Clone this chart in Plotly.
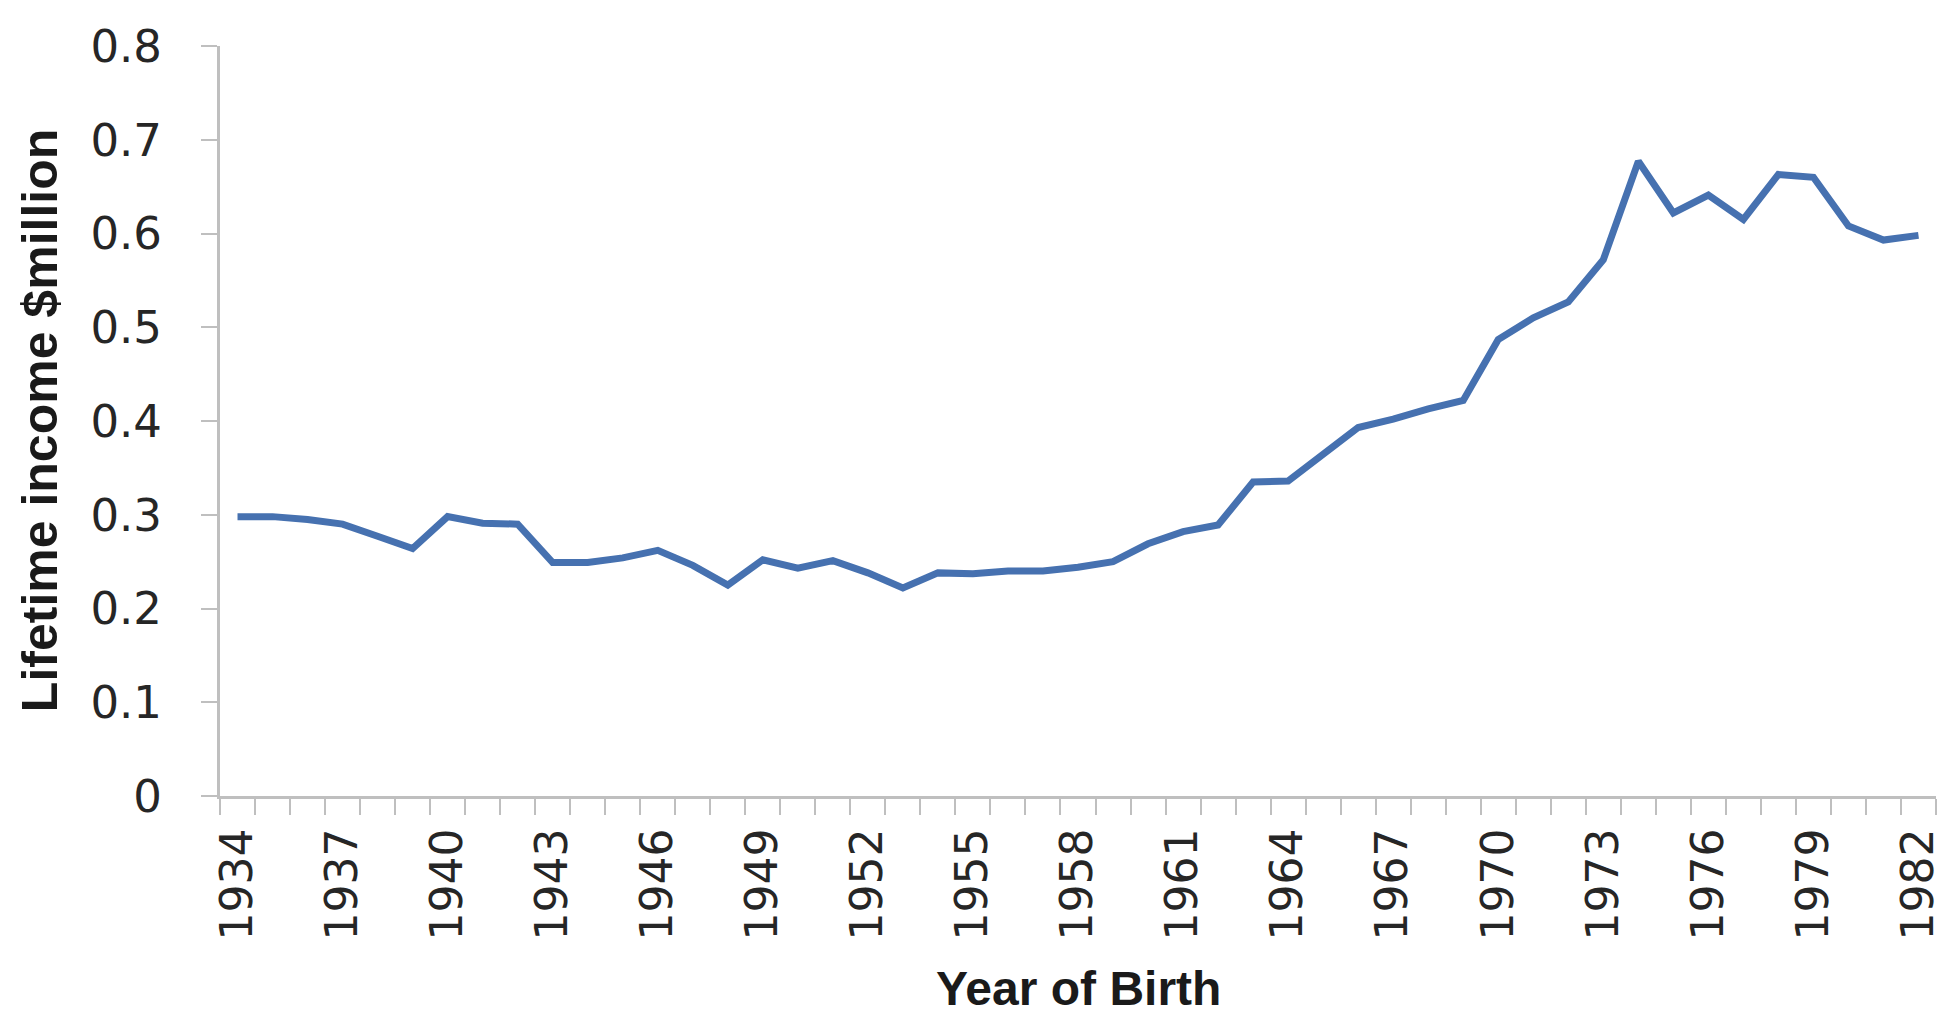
import plotly.graph_objects as go

years = list(range(1934, 1983))
income = [0.298, 0.298, 0.295, 0.290, 0.277, 0.264, 0.298, 0.291, 0.290, 0.249,
          0.249, 0.254, 0.262, 0.246, 0.225, 0.252, 0.243, 0.251, 0.238, 0.222,
          0.238, 0.237, 0.240, 0.240, 0.244, 0.250, 0.269, 0.282, 0.289, 0.335,
          0.336, 0.365, 0.393, 0.402, 0.413, 0.422, 0.487, 0.510, 0.527, 0.572,
          0.677, 0.622, 0.641, 0.615, 0.663, 0.660, 0.608, 0.593, 0.598]
x_labels = [str(y) for y in range(1934, 1983, 3)]
y_ticks = [0, 0.1, 0.2, 0.3, 0.4, 0.5, 0.6, 0.7, 0.8]
y_labels = ["0", "0.1", "0.2", "0.3", "0.4", "0.5", "0.6", "0.7", "0.8"]

TICK_FONT = "DejaVu Sans"
TITLE_FONT = "Liberation Sans"
AXIS_COLOR = "#bfbfbf"

fig = go.Figure()
fig.add_trace(go.Scatter(x=years, y=income, mode="lines",
                         line=dict(color="#4671b0", width=7)))

fig.update_layout(
    width=1947, height=1018,
    margin=dict(l=212, r=17, t=33, b=230),
    paper_bgcolor="white", plot_bgcolor="white",
    showlegend=False,
    font=dict(family=TICK_FONT, color="#262626"),
)
fig.update_xaxes(
    range=[1933.5, 1982.5],
    tickmode="array", tickvals=[int(v) for v in x_labels], ticktext=x_labels,
    tickangle=-90, tickfont=dict(size=44, family=TICK_FONT, color="#262626"),
    ticks="outside", ticklen=0, ticklabelstandoff=12,
    showline=True, linecolor=AXIS_COLOR, linewidth=3,
    showgrid=False, zeroline=False,
    minor=dict(tickmode="linear", tick0=1933.5, dtick=1, ticks="outside",
               ticklen=16, tickwidth=2, tickcolor=AXIS_COLOR, showgrid=False),
)
fig.update_yaxes(
    range=[0, 0.8],
    tickmode="array", tickvals=y_ticks, ticktext=y_labels,
    tickfont=dict(size=45, family=TICK_FONT, color="#262626"),
    ticks="outside", ticklen=16, tickwidth=2, tickcolor=AXIS_COLOR,
    ticklabelstandoff=30,
    showline=True, linecolor=AXIS_COLOR, linewidth=3,
    showgrid=False, zeroline=False,
)
fig.add_annotation(text="<b>Year of Birth</b>", xref="paper", yref="paper",
                   x=0.5, y=-0.256, xanchor="center", yanchor="middle",
                   showarrow=False, font=dict(size=48, family=TITLE_FONT, color="#1a1a1a"))
fig.add_annotation(text="<b>Lifetime income $million</b>", xref="paper", yref="paper",
                   x=-0.1048, y=0.5, xanchor="center", yanchor="middle", textangle=-90,
                   showarrow=False, font=dict(size=50, family=TITLE_FONT, color="#1a1a1a"))

fig.write_html("out.html")
